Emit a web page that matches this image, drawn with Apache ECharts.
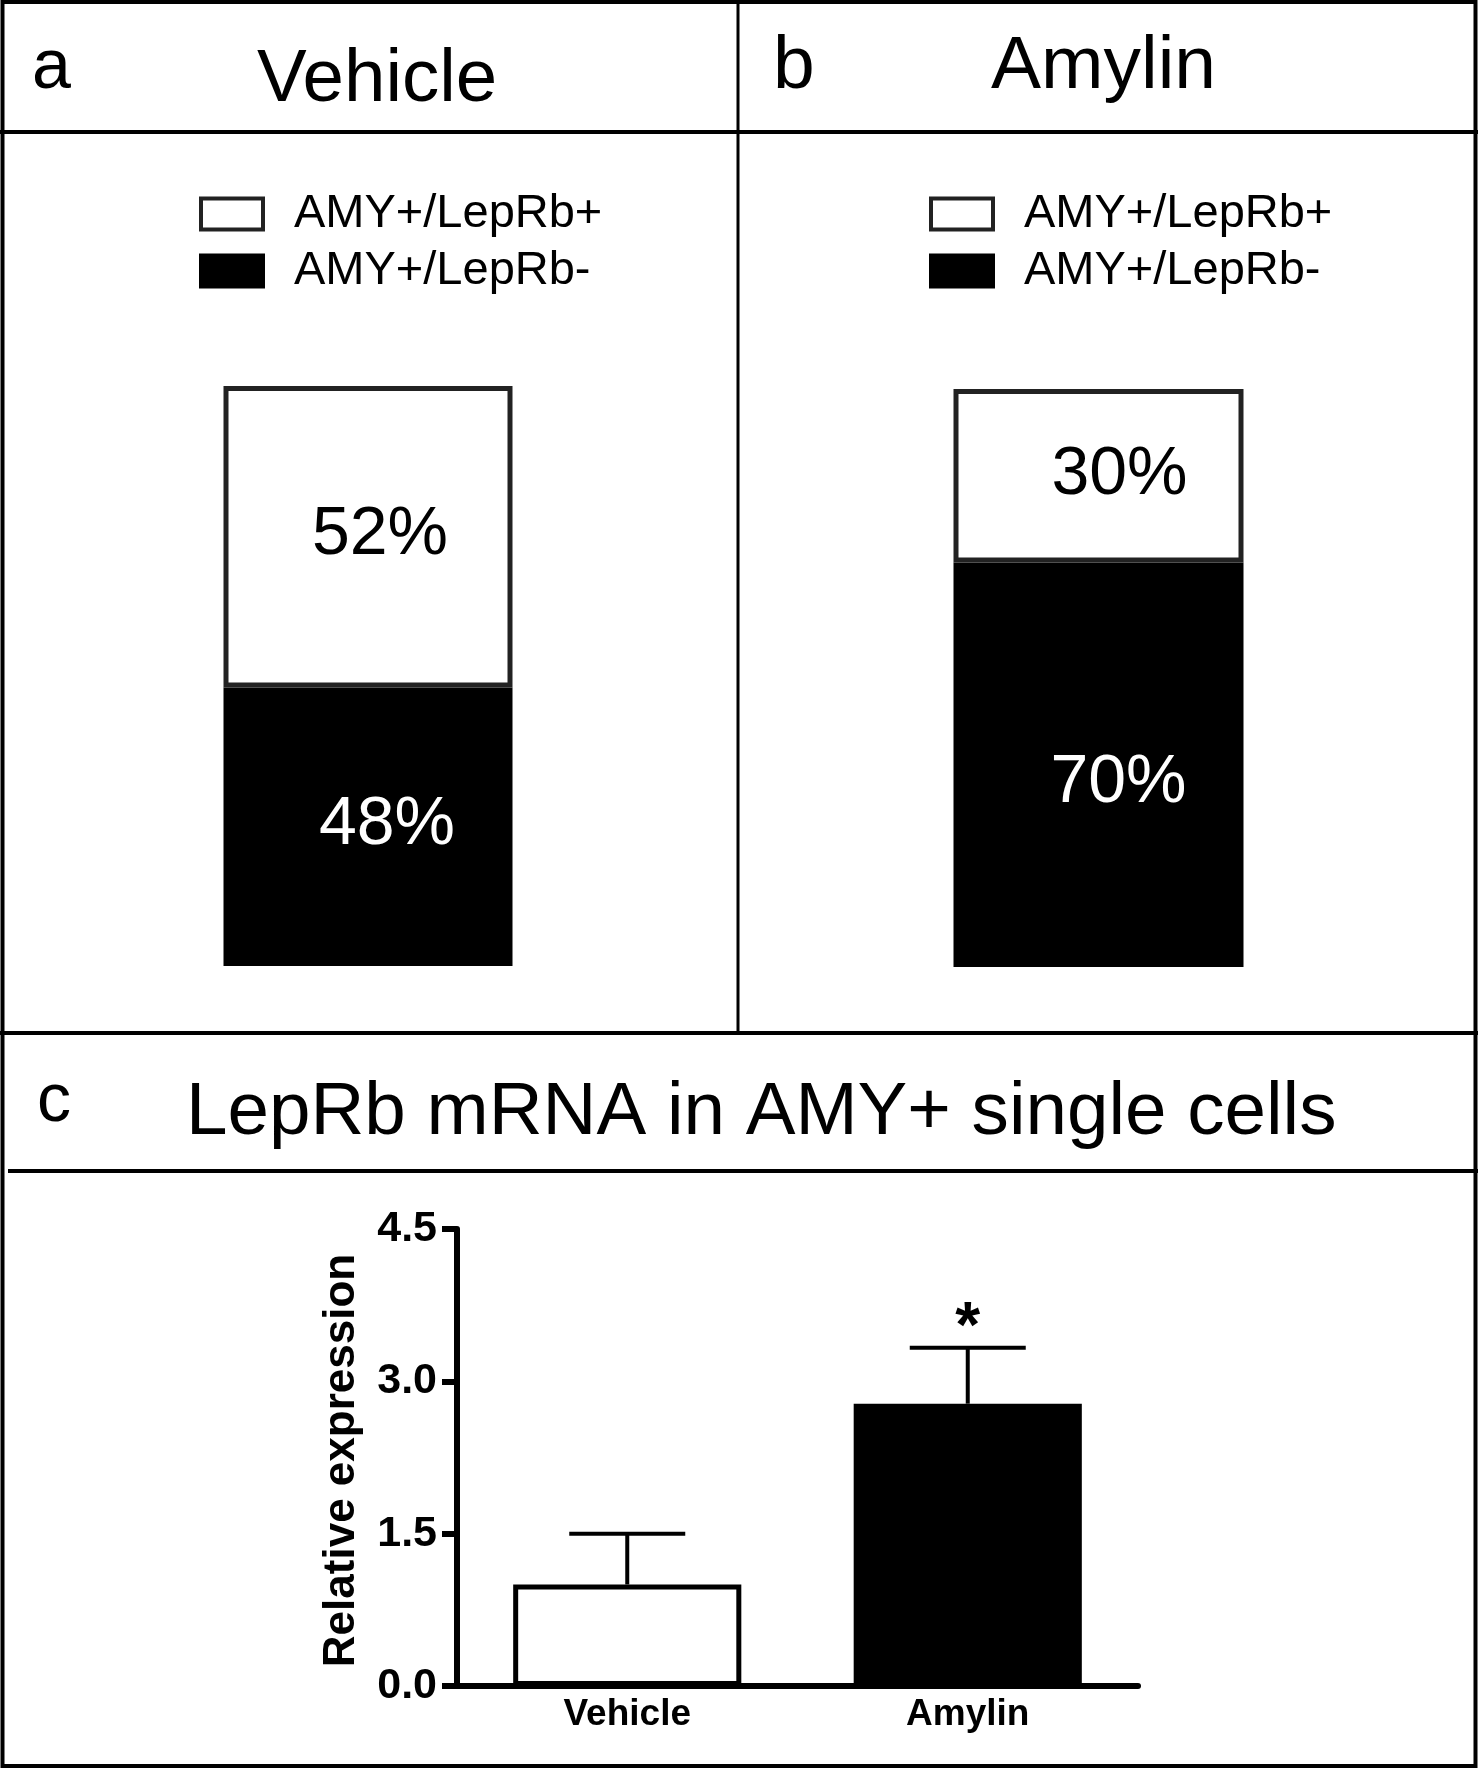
<!DOCTYPE html>
<html>
<head>
<meta charset="utf-8">
<script src="https://cdn.jsdelivr.net/npm/echarts@6/dist/echarts.min.js"></script>
<style>
html,body{margin:0;padding:0;background:#fff;}
#chart{width:1478px;height:1768px;}
</style>
</head>
<body>
<div id="chart"></div>
<script>
// ---- data ----
const panelLabels = ['a', 'b', 'c'];
const panelTitles = ['Vehicle', 'Amylin', 'LepRb mRNA in AMY+ single cells'];
const stackNames = ['AMY+/LepRb+', 'AMY+/LepRb-'];
const vehiclePct = [52, 48];   // [LepRb+, LepRb-]
const amylinPct = [30, 70];    // [LepRb+, LepRb-]
const exprCats = ['Vehicle', 'Amylin'];
const exprMean = [1.0, 2.78];
const exprSem = [0.5, 0.55];
const exprMarks = ['', '*'];
const yAxisName = 'Relative expression';

// ---- styles ----
const FF = '"Liberation Sans", Arial, Helvetica, sans-serif';
const chart = echarts.init(document.getElementById('chart'), null, {renderer: 'canvas'});

function stackSeries(gi, pct, offs) {
  return [
    {
      name: stackNames[1], type: 'bar', stack: 's' + gi, xAxisIndex: gi, yAxisIndex: gi,
      barWidth: '100%', silent: true,
      itemStyle: {color: '#000', borderColor: '#000', borderWidth: 5},
      label: {show: true, position: 'inside', formatter: '{c}%', color: '#fff',
        fontFamily: FF, fontSize: 68, offset: offs[1]},
      data: [pct[1]]
    },
    {
      name: stackNames[0], type: 'bar', stack: 's' + gi, xAxisIndex: gi, yAxisIndex: gi,
      barWidth: '100%', silent: true,
      itemStyle: {color: '#fff', borderColor: '#222', borderWidth: 5},
      label: {show: true, position: 'inside', formatter: '{c}%', color: '#000',
        fontFamily: FF, fontSize: 68, offset: offs[0]},
      data: [pct[0]]
    }
  ];
}

function legendAt(left, top) {
  return {
    orient: 'vertical', left: left, top: top, padding: 0,
    icon: 'rect', itemWidth: 62, itemHeight: 31, itemGap: 10,
    selectedMode: false,
    data: [
      {name: stackNames[0], itemStyle: {color: '#fff', borderColor: '#222', borderWidth: 4}},
      {name: stackNames[1], itemStyle: {color: '#000', borderColor: '#000', borderWidth: 4}}
    ],
    textStyle: {fontFamily: FF, fontSize: 47, color: '#000', padding: [0, 0, 0, 26]}
  };
}

function txt(text, x, y, size, weight) {
  return {type: 'text', silent: true, style: {text: text, x: x, y: y, fill: '#000',
    font: (weight || 'normal') + ' ' + size + 'px ' + FF, verticalAlign: 'middle', align: 'left'}};
}
function ln(x1, y1, x2, y2, w) {
  return {type: 'line', silent: true, shape: {x1, y1, x2, y2}, style: {stroke: '#000', lineWidth: w}};
}

const option = {
  animation: false,
  backgroundColor: '#fff',
  legend: [legendAt(199, 190.5), legendAt(929, 190.5)],
  grid: [
    {left: 223.5, top: 386, width: 289, height: 580},
    {left: 953.5, top: 389, width: 290, height: 578},
    {left: 457, top: 1229, width: 681, height: 457}
  ],
  xAxis: [
    {type: 'category', gridIndex: 0, data: [panelTitles[0]], show: false},
    {type: 'category', gridIndex: 1, data: [panelTitles[1]], show: false},
    {type: 'category', gridIndex: 2, data: exprCats,
      axisLine: {lineStyle: {color: '#000', width: 6}},
      axisTick: {show: false},
      axisLabel: {color: '#000', fontFamily: FF, fontWeight: 'bold', fontSize: 37, margin: 10}}
  ],
  yAxis: [
    {type: 'value', gridIndex: 0, min: 0, max: 100, show: false},
    {type: 'value', gridIndex: 1, min: 0, max: 100, show: false},
    {type: 'value', gridIndex: 2, min: 0, max: 4.5, interval: 1.5,
      axisLine: {show: true, lineStyle: {color: '#000', width: 6}},
      axisTick: {show: true, length: 15, lineStyle: {color: '#000', width: 6}},
      splitLine: {show: false},
      axisLabel: {color: '#000', fontFamily: FF, fontWeight: 'bold', fontSize: 43, margin: 20,
        formatter: v => v.toFixed(1)},
      name: yAxisName, nameLocation: 'middle', nameGap: 93, nameRotate: 90,
      nameTextStyle: {color: '#000', fontFamily: FF, fontWeight: 'bold', fontSize: 44,
        padding: [0, 6, 0, 0]}}
  ],
  series: [
    ...stackSeries(0, vehiclePct, [[12, -2], [19, -2]]),
    ...stackSeries(1, amylinPct, [[21, 0], [20, 19]]),
    {
      name: yAxisName, type: 'bar', xAxisIndex: 2, yAxisIndex: 2, barWidth: '67%', silent: true,
      data: exprMean.map((v, i) => ({value: v, itemStyle: i === 0
        ? {color: '#fff', borderColor: '#000', borderWidth: 5}
        : {color: '#000', borderColor: '#000', borderWidth: 4}}))
    },
    {
      name: 'sem', type: 'custom', xAxisIndex: 2, yAxisIndex: 2, silent: true, z: 5,
      data: exprMean.map((v, i) => [i, v, exprSem[i]]),
      renderItem: function (params, api) {
        const i = api.value(0), m = api.value(1), s = api.value(2);
        const base = api.coord([i, m]);
        const top = api.coord([i, m + s]);
        const half = 58;
        const st = {stroke: '#000', lineWidth: 4};
        const children = [
          {type: 'line', shape: {x1: base[0], y1: base[1], x2: top[0], y2: top[1]}, style: st},
          {type: 'line', shape: {x1: top[0] - half, y1: top[1], x2: top[0] + half, y2: top[1]}, style: st}
        ];
        const mark = exprMarks[params.dataIndex];
        if (mark) {
          children.push({type: 'text', style: {text: mark, x: top[0], y: top[1] - 18,
            align: 'center', verticalAlign: 'middle', fill: '#000',
            font: 'bold 64px ' + FF}});
        }
        return {type: 'group', children: children};
      }
    }
  ],
  graphic: [
    {type: 'rect', silent: true, shape: {x: 2.5, y: 2, width: 1473, height: 1764},
      style: {fill: 'none', stroke: '#000', lineWidth: 4}},
    ln(738, 0, 738, 1033, 3),
    ln(0, 132, 1478, 132, 4),
    ln(0, 1033, 1478, 1033, 4),
    ln(8, 1171, 1478, 1171, 4),
    txt(panelLabels[0], 32, 69, 70),
    txt(panelTitles[0], 257, 80, 74.5),
    txt(panelLabels[1], 773, 67, 75),
    txt(panelTitles[1], 991, 67, 75),
    txt(panelLabels[2], 37, 1102, 68),
    txt(panelTitles[2], 186, 1113, 74.6)
  ]
};
chart.setOption(option);
</script>
</body>
</html>
